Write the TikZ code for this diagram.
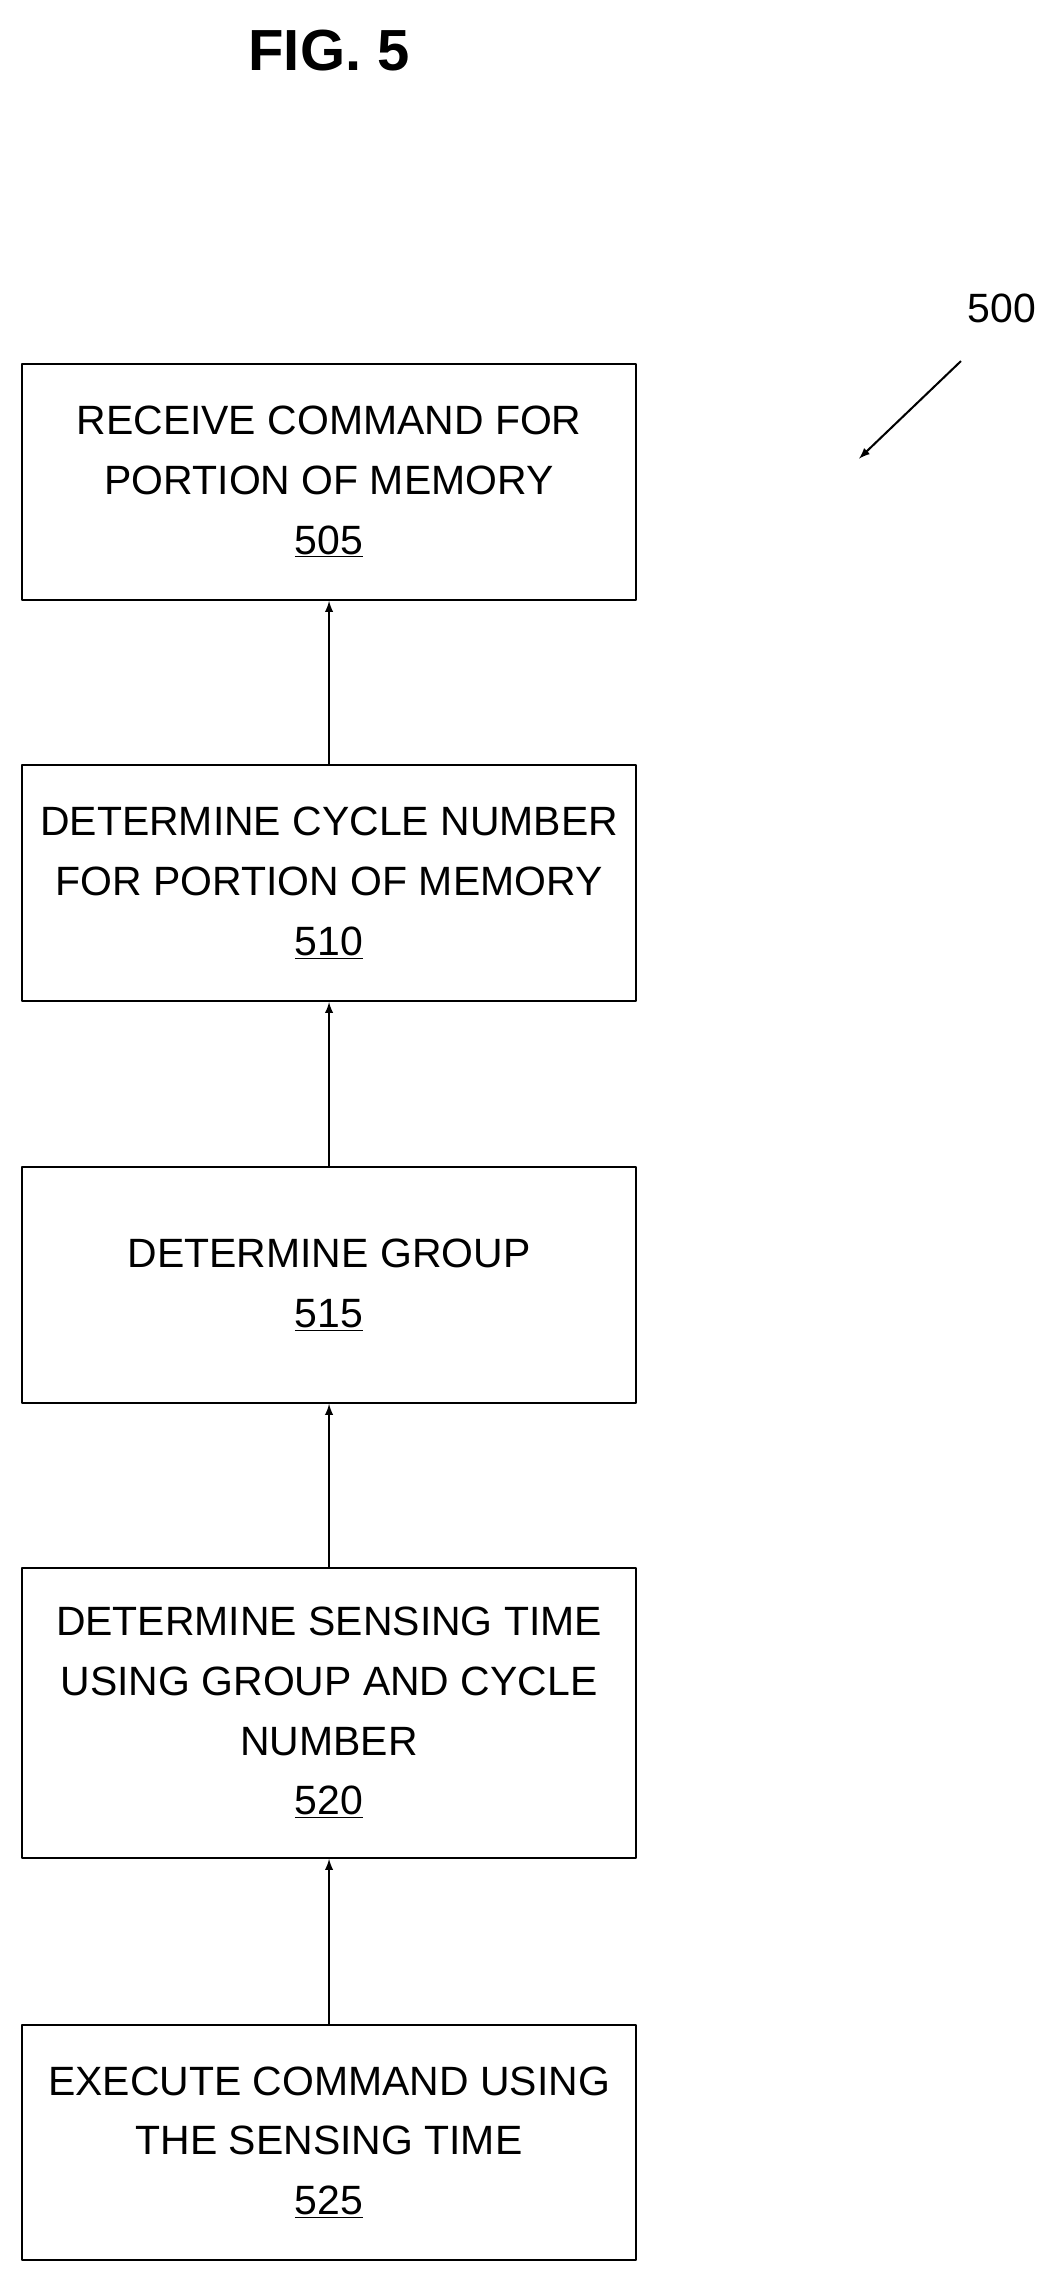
\documentclass[tikz,border=0pt]{standalone}
\usepackage{fontspec}
\setmainfont{Liberation Sans}
\usetikzlibrary{arrows}
\tikzset{b/.style={draw,line width=1.2pt,minimum width=12.66cm,minimum height=4.86cm,align=center,font=\fontsize{24}{35}\selectfont}}
\tikzset{a/.style={-latex,line width=1.2pt}}
\begin{document}
\begin{tikzpicture}[x=0.03cm,y=-0.03cm,line join=round]
  \useasboundingbox (0,0) rectangle (725,1568);
  \node[font=\bfseries\fontsize{34}{34}\selectfont] (T) at (226,35) {FIG. 5};
  \node[font=\fontsize{24}{24}\selectfont] (N) at (688,212) {500};
  \coordinate (P) at (660,248);
  \coordinate (Q) at (590,315);
  \draw[a] (P) -- (Q);
  \node[b] (A) at (226,331) {RECEIVE COMMAND FOR\\PORTION OF MEMORY\\\underline{505}};
  \node[b] (B) at (226,606.5) {DETERMINE CYCLE NUMBER\\FOR PORTION OF MEMORY\\\underline{510}}
    edge [<-,a] (A);
  \node[b] (C) at (226,882.5) {DETERMINE GROUP\\\underline{515}}
    edge [<-,a] (B);
  \node[b,minimum height=5.97cm] (D) at (226,1176.5) {DETERMINE SENSING TIME\\USING GROUP AND CYCLE\\NUMBER\\\underline{520}}
    edge [<-,a] (C);
  \node[b] (E) at (226,1471.5) {EXECUTE COMMAND USING\\THE SENSING TIME\\\underline{525}}
    edge [<-,a] (D);
\end{tikzpicture}
\end{document}
